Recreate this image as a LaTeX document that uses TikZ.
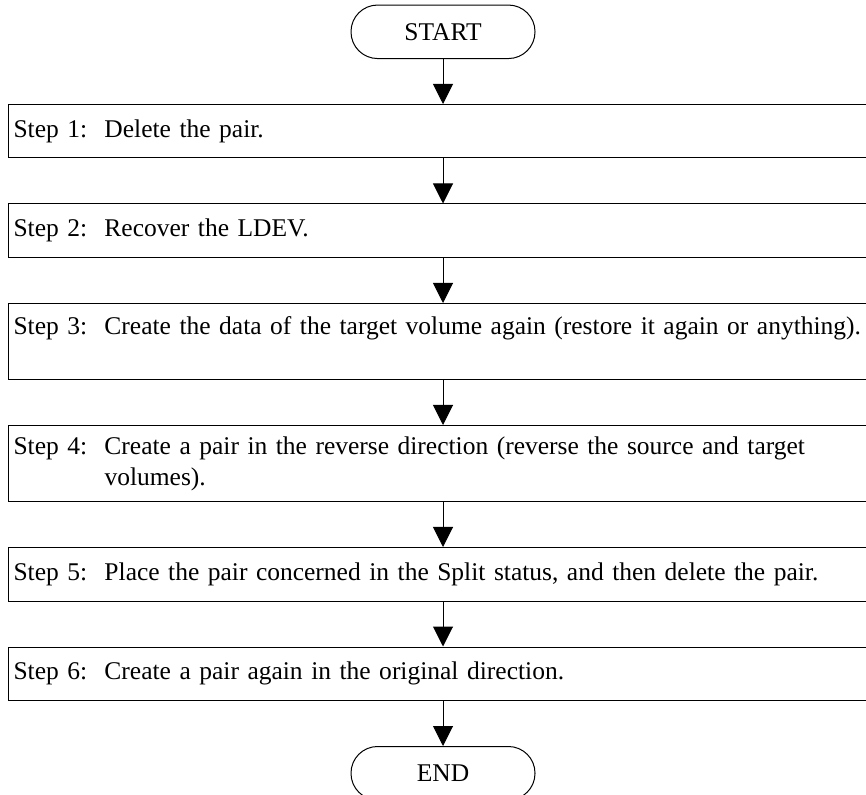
\documentclass[tikz,border=0pt]{standalone}
\usepackage{fontspec}
\setmainfont{Liberation Serif}
\usetikzlibrary{positioning,arrows.meta}
\newcommand{\steptext}[2]{\makebox[45.5pt][l]{Step #1:}\parbox[t]{420pt}{\raggedright #2}}

\begin{document}
\begin{tikzpicture}[node distance=22.5pt,>={Triangle[length=10pt,width=10pt]},line width=0.5pt,
font=\fontsize{12.75}{15.5}\selectfont,
term/.style={draw,rounded corners=13.3pt,minimum width=92pt,minimum height=26.75pt,inner sep=0pt},
stepbox/.style={draw,anchor=north west,text width=466pt,align=left,inner xsep=2.5pt,inner ysep=0pt,minimum height=26.75pt},
tall/.style={minimum height=38pt}]
\useasboundingbox (0,0) rectangle (433pt,-397.5pt);
\node[term] (start) at (221.5pt,-15.9pt) {START};
\node[stepbox] (s1) at (4pt,-52pt) {\steptext{1}{Delete the pair.}};
\node[below=of s1.south west,stepbox] (s2) {\steptext{2}{Recover the LDEV.}};
\node[below=of s2.south west,stepbox,tall] (s3) {\steptext{3}{Create the data of the target volume again (restore it again or anything).\\ \mbox{}}};
\node[below=of s3.south west,stepbox,tall] (s4) {\steptext{4}{Create a pair in the reverse direction (reverse the source and target\\ volumes).}};
\node[below=of s4.south west,stepbox] (s5) {\steptext{5}{Place the pair concerned in the Split status, and then delete the pair.}};
\node[below=of s5.south west,stepbox] (s6) {\steptext{6}{Create a pair again in the original direction.}};
\node[term,below=22.5pt] (stop) at (start |- s6.south) {END};
\draw[->] (start) -- (start |- s1.north);
\draw[->] (s1.south -| start) -- (s2.north -| start);
\draw[->] (s2.south -| start) -- (s3.north -| start);
\draw[->] (s3.south -| start) -- (s4.north -| start);
\draw[->] (s4.south -| start) -- (s5.north -| start);
\draw[->] (s5.south -| start) -- (s6.north -| start);
\draw[->] (s6.south -| start) -- (stop);
\end{tikzpicture}
\end{document}
